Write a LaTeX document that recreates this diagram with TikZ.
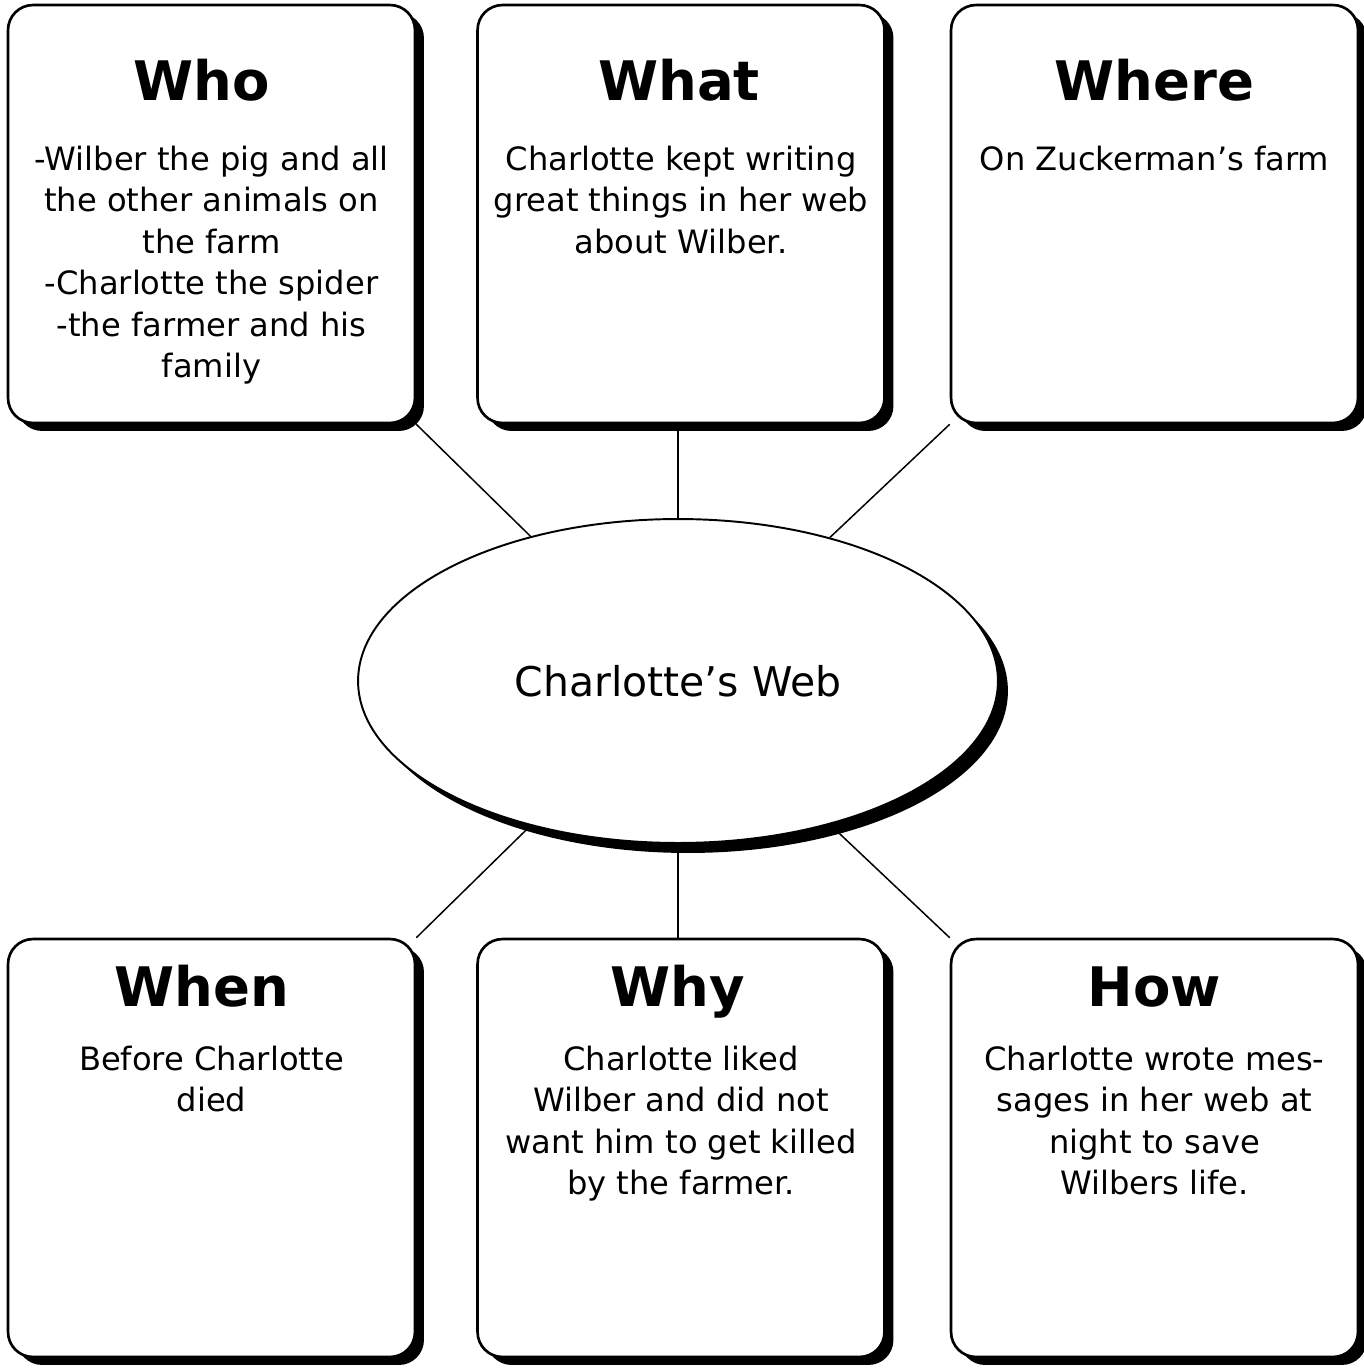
\documentclass[tikz,border=0pt]{standalone}
\usepackage{fontspec}
\setmainfont{DejaVu Sans}
\usepackage{tikz}
\usetikzlibrary{shapes.geometric,shadows,backgrounds,calc}

\begin{document}
\begin{tikzpicture}[x=0.02cm, y=-0.02cm, %
      box/.style={draw, line width=1.5pt, fill=white, rounded corners=0.5cm, %
        minimum width=8.14cm, minimum height=8.36cm, inner sep=0pt, %
        drop shadow={shadow xshift=0.18cm, shadow yshift=-0.16cm, fill=black, opacity=1}}, %
      head/.style={font=\bfseries\fontsize{31}{36}\selectfont, inner sep=0pt}, %
      body/.style={font=\fontsize{18.3}{23.6}\selectfont, align=center, inner sep=0pt}, %
      hub/.style={ellipse, draw, line width=1.1pt, fill=white, inner sep=0pt, %
        minimum width=12.8cm, minimum height=6.48cm, font=\fontsize{23.3}{28}\selectfont, %
        drop shadow={shadow xshift=0.2cm, shadow yshift=-0.2cm, fill=black, opacity=1}}, %
      link/.style={line width=0.85pt}, %
      ]
    \useasboundingbox (0,0) rectangle (1364,1368);

    \node[hub] (web) at (678,681) {Charlotte’s Web};

    \foreach \nm/\hd/\x/\y/\hx/\hy/\by/\lines in { %
      who/Who/211.5/214/-10/97/142/{-Wilber the pig and all\\the other animals on\\the farm\\-Charlotte the spider\\-the farmer and his\\family},%
      what/What/681/214/-2/97/142/{Charlotte kept writing\\great things in her web\\about Wilber.},%
      where/Where/1154.5/214/0/97/142/{On Zuckerman’s farm},%
      when/When/211.5/1148/-10/69/108/{Before Charlotte\\died},%
      why/Why/681/1148/-3/69/108/{Charlotte liked\\Wilber and did not\\want him to get killed\\by the farmer.},%
      how/How/1154.5/1148/0/69/108/{Charlotte wrote mes-\\sages in her web at\\night to save\\Wilbers life.}%
    }{ %
      \node[box] (\nm) at (\x,\y) {};
      \node[head, anchor=base] (\nm-h) at ($(\nm.north)+(\hx,\hy)$) {\hd};
      \node[body, anchor=north] (\nm-b) at ($(\nm.north)+(0,\by)$) {\lines};
    }

    \begin{scope}[on background layer]
      \fill[white] (0,0) rectangle (1364,1368);
      \foreach \from in {who.south east, where.south west, when.north east, how.north west}{ %
        \draw[link] (\from) -- (web);
      }
      \draw[link] (what.south -| web) -- (web);
      \draw[link] (why.north -| web) -- (web);
    \end{scope}
\end{tikzpicture}
\end{document}
